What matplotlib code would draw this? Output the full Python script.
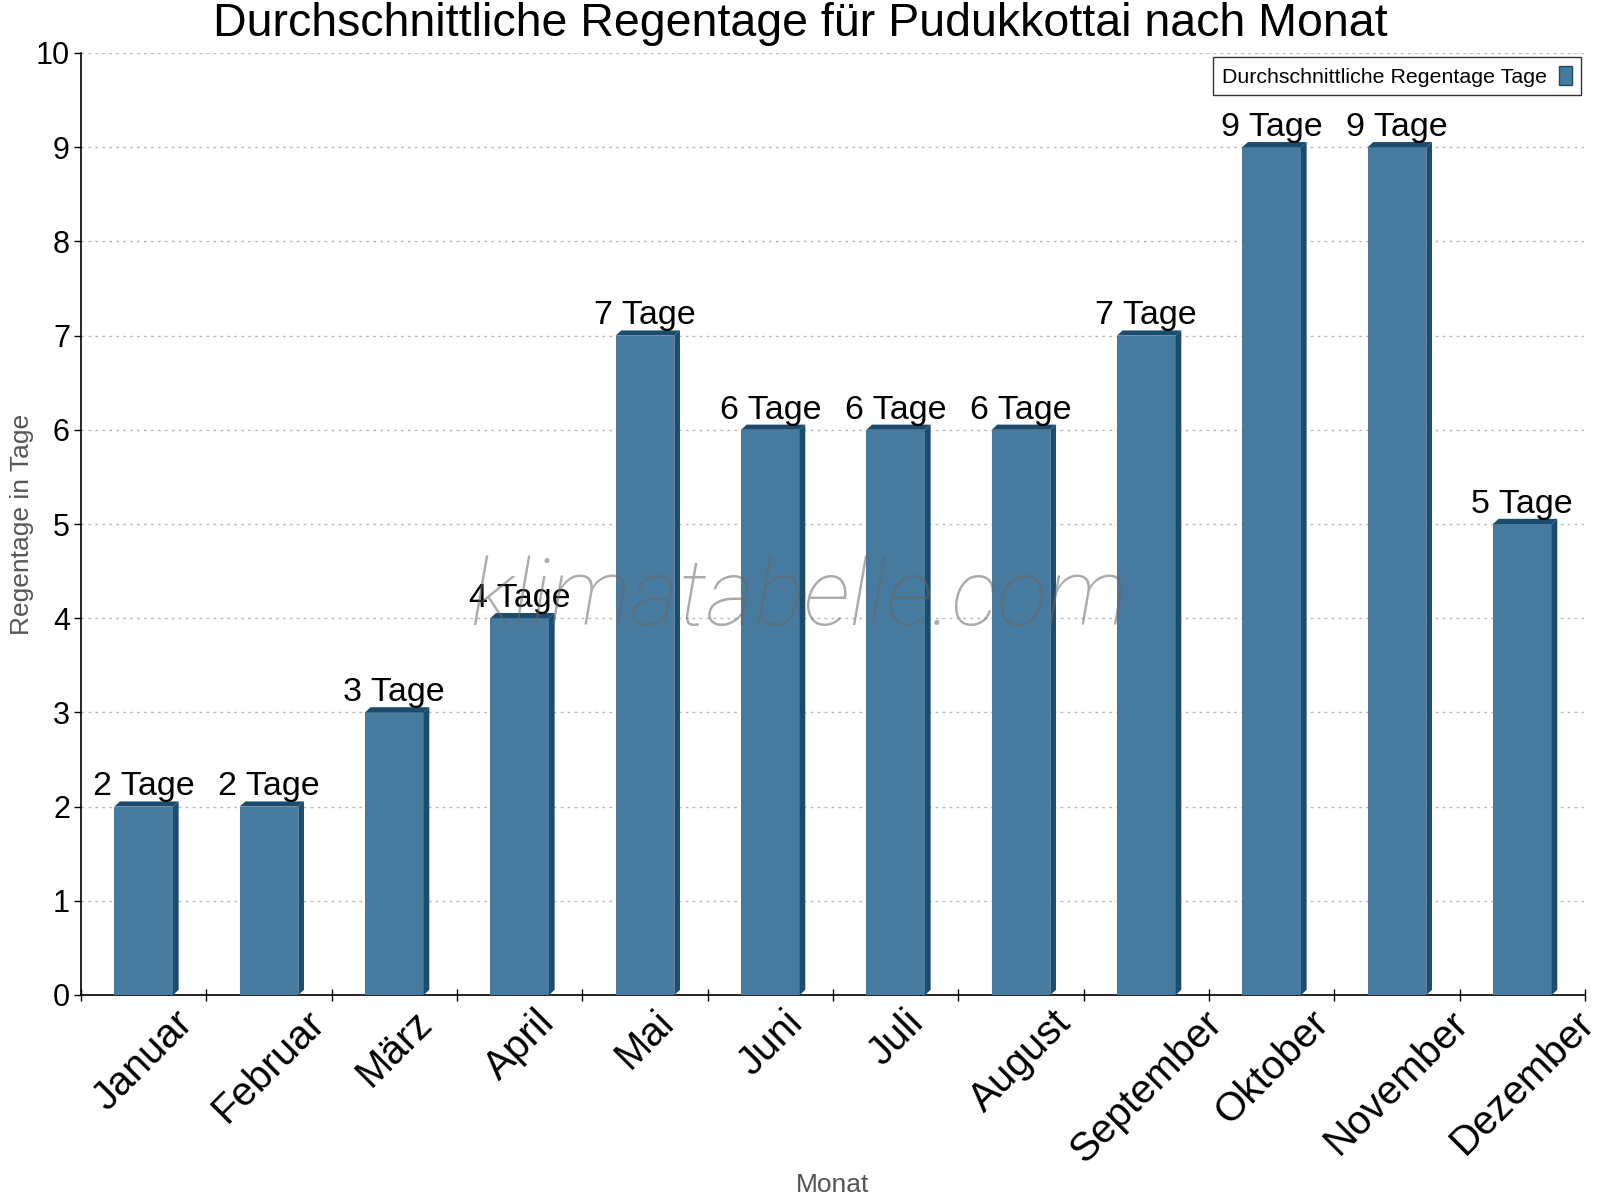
import matplotlib
matplotlib.use("Agg")
import matplotlib.pyplot as plt
from matplotlib.patches import Polygon, Rectangle
import numpy as np

months = ["Januar", "Februar", "März", "April", "Mai", "Juni", "Juli",
          "August", "September", "Oktober", "November", "Dezember"]
rain_days = [2, 2, 3, 4, 7, 6, 6, 6, 7, 9, 9, 5]
bar_labels = [f"{v} Tage" for v in rain_days]
y_ticks = list(range(0, 11))

title = "Durchschnittliche Regentage für Pudukkottai nach Monat"
legend_label = "Durchschnittliche Regentage Tage"

FRONT = "#467a9e"
DARK = "#1b4b6d"

plt.rcParams['font.family'] = ['Liberation Sans', 'DejaVu Sans']

fig = plt.figure(figsize=(16, 12), dpi=100)
ax = fig.add_axes([81/1600, 1 - 995/1200, 1504/1600, 942/1200])

x = np.arange(len(months))
w = 0.468
dx, dy = 0.045, 0.055

bars = ax.bar(x, rain_days, width=w, color=FRONT, zorder=3, label=legend_label,
              edgecolor='none')
for xi, v in zip(x, rain_days):
    r = xi + w / 2
    l = xi - w / 2
    side = Polygon([(r, 0), (r + dx, dy), (r + dx, v + dy), (r, v)],
                   closed=True, facecolor=DARK, edgecolor='none', zorder=3)
    top = Polygon([(l, v), (l + dx, v + dy), (r + dx, v + dy), (r, v)],
                  closed=True, facecolor=DARK, edgecolor='none', zorder=3)
    ax.add_patch(side)
    ax.add_patch(top)

for xi, v, lab in zip(x, rain_days, bar_labels):
    ax.annotate(lab, (xi, v), xytext=(0, 8), textcoords='offset points',
                ha='center', va='baseline', fontsize=24.5, color='black', zorder=5)

ax.set_xlim(-0.5, len(months) - 0.5)
ax.set_ylim(0, 10)
ax.set_yticks(y_ticks)
ax.set_yticklabels([str(t) for t in y_ticks], fontsize=22)
ax.tick_params(axis='y', direction='out', length=5, width=1, pad=3)

ax.set_xticks(np.arange(len(months) + 1) - 0.5)
ax.set_xticklabels([])
ax.tick_params(axis='x', which='major', direction='inout', length=9, width=1)
ax.set_xticks(x, minor=True)
ax.set_xticklabels(months, minor=True, rotation=45, ha='center', fontsize=29)
ax.tick_params(axis='x', which='minor', length=0, pad=6)

ax.grid(axis='y', linestyle=(0, (2, 3)), color='#bbbbbb', linewidth=1, zorder=0)
ax.set_axisbelow(True)
for s in ['top', 'right']:
    ax.spines[s].set_visible(False)
for s in ['left', 'bottom']:
    ax.spines[s].set_color('black')
    ax.spines[s].set_linewidth(1.2)

fig.text(0.5, 1 - 36/1200, title, ha='center', va='baseline', fontsize=33.5)
ax.set_xlabel("Monat", fontsize=19, color='#555555')
ax.set_ylabel("Regentage in Tage", fontsize=19, color='#555555')
ax.xaxis.set_label_coords(0.5, -0.189)
ax.yaxis.set_label_coords(-0.031, 0.5)

leg = ax.legend(handles=[Rectangle((0, 0), 1, 1, facecolor=FRONT, edgecolor=DARK)],
                labels=[legend_label], loc='upper right', bbox_to_anchor=(1.0, 1.0),
                markerfirst=False, fontsize=15.4, frameon=True, fancybox=False,
                handlelength=0.6, handleheight=1.0, borderpad=0.4, handletextpad=0.6,
                borderaxespad=0.2)
leg.get_frame().set_edgecolor('black')
leg.get_frame().set_linewidth(1.0)

ax.text(0.4775, 0.42, "klimatabelle.com", transform=ax.transAxes, ha='center', va='center',
        fontsize=67, family='Roboto', fontweight='light', style='italic',
        color='#666666', alpha=0.55, zorder=10)

fig.savefig("out.png", dpi=100)
